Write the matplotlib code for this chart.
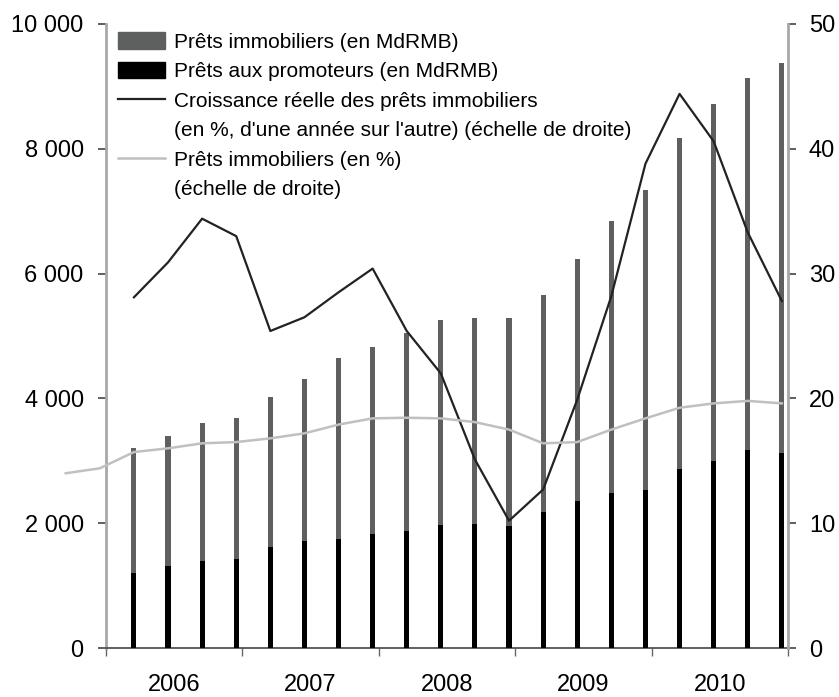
import numpy as np
import matplotlib
matplotlib.use("Agg")
import matplotlib.pyplot as plt
from matplotlib.patches import Patch
from matplotlib.lines import Line2D

plt.rcParams['font.family'] = ['Liberation Sans', 'DejaVu Sans']

# Data (quarterly, 2006 Q1 - 2010 Q4)
years = ['2006', '2007', '2008', '2009', '2010']
prets_immo = [3200, 3400, 3610, 3690, 4020, 4310, 4650, 4820, 5040, 5260,
              5290, 5290, 5660, 6230, 6840, 7340, 8180, 8720, 9140, 9370]
prets_promo = [1200, 1310, 1400, 1430, 1620, 1710, 1750, 1830, 1875, 1970,
               1980, 1950, 2180, 2360, 2480, 2530, 2870, 2990, 3170, 3130]
croissance = [28.1, 30.9, 34.4, 33.0, 25.4, 26.5, 28.5, 30.4, 25.4, 22.0,
              15.1, 10.2, 12.7, 19.9, 28.2, 38.8, 44.4, 40.6, 33.3, 27.8]
# starts two quarters earlier (2005 Q3)
part_immo = [14.0, 14.4, 15.7, 16.0, 16.4, 16.5, 16.8, 17.2, 17.9, 18.4,
             18.45, 18.4, 18.1, 17.5, 16.4, 16.5, 17.5, 18.4, 19.25, 19.6,
             19.8, 19.6]

x = np.arange(len(prets_immo)) + 0.82
x_part = np.arange(-2, len(prets_immo)) + 0.82

fig = plt.figure(figsize=(8.39, 6.97), dpi=100)
ax = fig.add_axes([0.1263, 0.0703, 0.8129, 0.8953])
ax2 = ax.twinx()

ax.bar(x, prets_immo, width=0.15, color='#5e605f', zorder=2)
ax.bar(x, prets_promo, width=0.15, color='black', zorder=3)

ax2.plot(x, croissance, color='#222222', lw=1.6, zorder=4)
ax2.plot(x_part, part_immo, color='#c0c0c0', lw=1.8, zorder=4, clip_on=False)

ax.set_xlim(0, 20)
ax.set_ylim(0, 10000)
ax2.set_ylim(0, 50)

ax.set_yticks(range(0, 10001, 2000))
ax.set_yticklabels([f"{v:,}".replace(",", " ") for v in range(0, 10001, 2000)])
ax2.set_yticks(range(0, 51, 10))

ax.set_xticks(np.arange(0, 21, 4))
ax.set_xticklabels([])
ax.set_xticks(np.arange(2, 20, 4), minor=True)
ax.set_xticklabels(years, minor=True)

for a in (ax, ax2):
    a.spines['top'].set_visible(False)
    a.spines['left'].set_color('#a8a8a8')
    a.spines['right'].set_color('#a8a8a8')
    a.spines['left'].set_linewidth(2)
    a.spines['right'].set_linewidth(2)
    a.spines['bottom'].set_color('#444444')
    a.spines['bottom'].set_linewidth(1.2)
ax.spines['right'].set_visible(False)
ax2.spines['left'].set_visible(False)
ax2.spines['bottom'].set_visible(False)

ax.tick_params(axis='y', length=6, width=1.2, color='#444444', pad=10, labelsize=17)
ax2.tick_params(axis='y', length=6, width=1.2, color='#444444', pad=9, labelsize=17)
ax.tick_params(axis='x', which='major', length=6, width=1, color='#666666')
ax.tick_params(axis='x', which='minor', length=0, pad=19, labelsize=17)

# legend: one row per text line, second lines get an invisible handle
blank = Line2D([], [], color='none')
handles = [
    Patch(color='#5e605f'),
    Patch(color='black'),
    Line2D([], [], color='#222222', lw=1.6),
    blank,
    Line2D([], [], color='#c0c0c0', lw=1.8),
    blank,
]
labels = [
    "Prêts immobiliers (en MdRMB)",
    "Prêts aux promoteurs (en MdRMB)",
    "Croissance réelle des prêts immobiliers",
    "(en %, d'une année sur l'autre) (échelle de droite)",
    "Prêts immobiliers (en %)",
    "(échelle de droite)",
]
ax2.legend(handles, labels, loc='upper left', bbox_to_anchor=(0.017, 0.987),
           frameon=False, fontsize=15, handlelength=2.3, handleheight=0.85,
           handletextpad=0.42, labelspacing=0.48, borderpad=0, borderaxespad=0)

fig.savefig("out.png", dpi=100)
